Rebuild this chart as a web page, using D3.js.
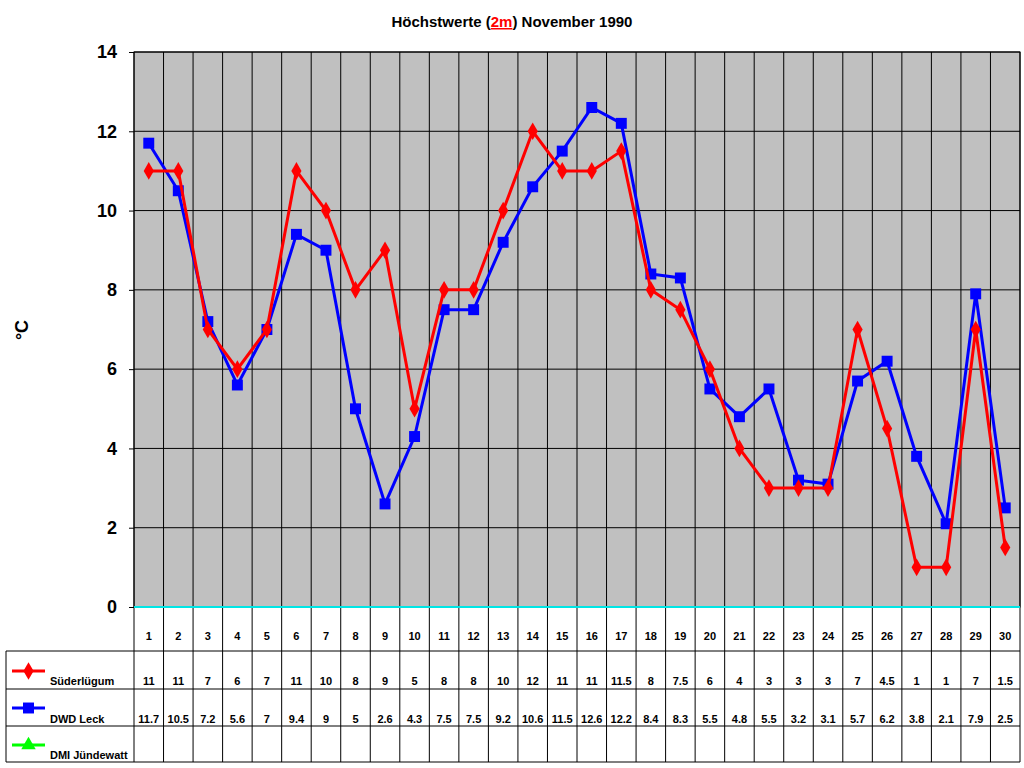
<!DOCTYPE html>
<html><head><meta charset="utf-8">
<script src="https://cdn.jsdelivr.net/npm/d3@7"></script>
<style>body{margin:0;background:#fff}text{font-family:Arial,"Liberation Sans",sans-serif;font-weight:bold}</style>
</head><body><div id="chart"></div>
<script>
const days = d3.range(1, 31);
const suederluegum = [11,11,7,6,7,11,10,8,9,5,8,8,10,12,11,11,11.5,8,7.5,6,4,3,3,3,7,4.5,1,1,7,1.5];
const dwdLeck = [11.7,10.5,7.2,5.6,7,9.4,9,5,2.6,4.3,7.5,7.5,9.2,10.6,11.5,12.6,12.2,8.4,8.3,5.5,4.8,5.5,3.2,3.1,5.7,6.2,3.8,2.1,7.9,2.5];
const dmiJuendewatt = [];
const yTicks = [0,2,4,6,8,10,12,14];

const W = 1024, H = 768;
const L = 134, R = 1020, T = 52, B = 607;
const svg = d3.select("#chart").append("svg").attr("width", W).attr("height", H);

const x = d3.scaleBand().domain(days).range([L, R]);
const y = d3.scaleLinear().domain([0, 14]).range([B, T]);

// plot background
svg.append("rect").attr("x", L).attr("y", T).attr("width", R - L).attr("height", B - T)
    .attr("fill", "#c0c0c0").attr("stroke", "#000");

// horizontal gridlines
svg.selectAll(".hg").data(yTicks.slice(1)).enter().append("line")
    .attr("x1", L).attr("x2", R).attr("y1", d => y(d)).attr("y2", d => y(d))
    .attr("stroke", "#000").attr("stroke-width", 1);

// table rows
const rows = [607, 651, 689, 726, 762];
// vertical lines through plot and table
svg.selectAll(".vg").data(days.slice(1).concat([31])).enter().append("line")
    .attr("x1", d => d === 31 ? R : x(d)).attr("x2", d => d === 31 ? R : x(d))
    .attr("y1", T).attr("y2", rows[4])
    .attr("stroke", "#000");
svg.append("line").attr("x1", L).attr("x2", L).attr("y1", T).attr("y2", rows[4]).attr("stroke", "#000");
rows.slice(1).forEach(r => svg.append("line").attr("x1", 6).attr("x2", R).attr("y1", r).attr("y2", r).attr("stroke", "#000"));
svg.append("line").attr("x1", 6).attr("x2", 6).attr("y1", rows[1]).attr("y2", rows[4]).attr("stroke", "#000");

// zero line
svg.append("line").attr("x1", L).attr("x2", R).attr("y1", y(0)).attr("y2", y(0))
    .attr("stroke", "#00e5e5").attr("stroke-width", 2);

// y axis
const yAxis = svg.append("g").attr("transform", `translate(${L},0)`)
    .call(d3.axisLeft(y).tickValues(yTicks).tickSize(5).tickPadding(12));
yAxis.select(".domain").remove();
yAxis.selectAll("text").style("font-size", "18px").attr("fill", "#000");
svg.append("text").attr("transform", "translate(28,330) rotate(-90)").attr("text-anchor", "middle")
    .style("font-size", "18px").text("°C");

// title
const title = svg.append("text").attr("x", 512).attr("y", 27).attr("text-anchor", "middle").style("font-size", "15px");
title.append("tspan").text("Höchstwerte (");
title.append("tspan").attr("fill", "#f00").attr("text-decoration", "underline").text("2m");
title.append("tspan").text(") November 1990");

const cx = d => x(d) + x.bandwidth() / 2;

// series
const series = [
    {name: "Süderlügum", values: suederluegum, color: "#f00", shape: d3.symbolDiamond, size: 90},
    {name: "DWD Leck", values: dwdLeck, color: "#00f", shape: d3.symbolSquare, size: 120},
    {name: "DMI Jündewatt", values: dmiJuendewatt, color: "#0f0", shape: d3.symbolTriangle, size: 90}
];
const line = d3.line().x((v, i) => cx(days[i])).y(v => y(v));
series.slice(0, 2).reverse().forEach(s => {
    svg.append("path").attr("d", line(s.values)).attr("fill", "none").attr("stroke", s.color).attr("stroke-width", 3);
    svg.selectAll(null).data(s.values).enter().append("path")
        .attr("d", d3.symbol().type(s.shape).size(s.size))
        .attr("transform", (v, i) => `translate(${cx(days[i])},${y(v)})`)
        .attr("fill", s.color);
});

// table text
svg.selectAll(".day").data(days).enter().append("text")
    .attr("x", d => cx(d)).attr("y", 640).attr("text-anchor", "middle").style("font-size", "11px").text(d => d);
series.forEach((s, k) => {
    const ty = [685, 723, 759][k];
    const my = [671, 708, 745][k];
    svg.append("line").attr("x1", 12).attr("x2", 45).attr("y1", my).attr("y2", my).attr("stroke", s.color).attr("stroke-width", 3);
    svg.append("path").attr("d", d3.symbol().type(s.shape).size(s.size)).attr("transform", `translate(28.5,${my})`).attr("fill", s.color);
    svg.append("text").attr("x", 50).attr("y", ty).style("font-size", "11px").text(s.name);
    svg.selectAll(null).data(s.values).enter().append("text")
        .attr("x", (v, i) => cx(days[i])).attr("y", ty).attr("text-anchor", "middle").style("font-size", "11px").text(v => v);
});
</script></body></html>
